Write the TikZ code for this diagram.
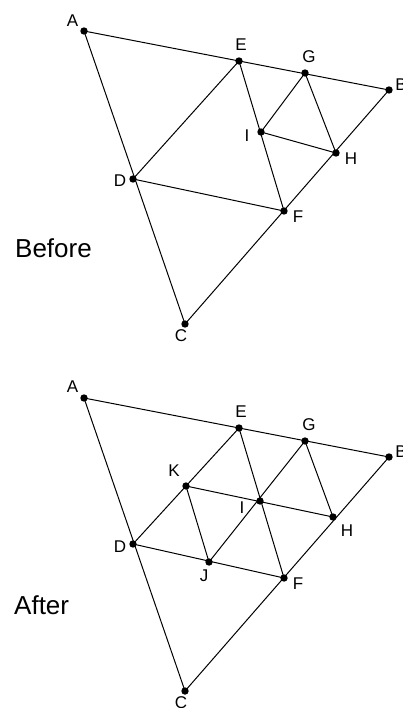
\documentclass[tikz,border=0pt]{standalone}
\usepackage{fontspec}
\setmainfont{Liberation Sans}
\begin{document}
\begin{tikzpicture}[x=1pt,y=-1pt,
  dot/.style={circle,fill=black,inner sep=0pt,minimum size=7.4pt},
  lbl/.style={inner sep=0pt,font=\fontsize{17}{20}\selectfont},
  title/.style={inner sep=0pt,anchor=base west,font=\fontsize{26}{30}\selectfont},
  edge/.style={line width=1pt,black}]
\useasboundingbox (0,0) rectangle (403,708);
% ---------- Before ----------
\node[dot] (tA) at (84,31) {};
\node[dot] (tE) at (239,61) {};
\node[dot] (tG) at (305,73) {};
\node[dot] (tB) at (389,90) {};
\node[dot] (tI) at (261,132) {};
\node[dot] (tH) at (336,153) {};
\node[dot] (tD) at (133,179) {};
\node[dot] (tF) at (284,211) {};
\node[dot] (tC) at (185,324) {};
\draw[edge] (tA.center) -- (tB.center);
\draw[edge] (tA.center) -- (tC.center);
\draw[edge] (tC.center) -- (tB.center);
\draw[edge] (tE.center) -- (tD.center);
\draw[edge] (tE.center) -- (tF.center);
\draw[edge] (tD.center) -- (tF.center);
\draw[edge] (tG.center) -- (tI.center);
\draw[edge] (tG.center) -- (tH.center);
\draw[edge] (tI.center) -- (tH.center);
\node[lbl] (ltA) at (72.5,21) {A};
\node[lbl] (ltE) at (241,44.5) {E};
\node[lbl] (ltG) at (309,57) {G};
\node[lbl] (ltB) at (401,85) {B};
\node[lbl] (ltI) at (247,136) {I};
\node[lbl] (ltH) at (351,159) {H};
\node[lbl] (ltD) at (120,181) {D};
\node[lbl] (ltF) at (298,217) {F};
\node[lbl] (ltC) at (181,336) {C};
\node[title] (before) at (15,258) {Before};
% ---------- After ----------
\node[dot] (bA) at (84,398) {};
\node[dot] (bE) at (239,428) {};
\node[dot] (bG) at (305,441) {};
\node[dot] (bB) at (389,457) {};
\node[dot] (bK) at (186,486) {};
\node[dot] (bI) at (260,501) {};
\node[dot] (bH) at (333,517) {};
\node[dot] (bD) at (133,544) {};
\node[dot] (bJ) at (209,562) {};
\node[dot] (bF) at (284,578) {};
\node[dot] (bC) at (185,691) {};
\draw[edge] (bA.center) -- (bB.center);
\draw[edge] (bA.center) -- (bC.center);
\draw[edge] (bC.center) -- (bB.center);
\draw[edge] (bE.center) -- (bD.center);
\draw[edge] (bE.center) -- (bF.center);
\draw[edge] (bD.center) -- (bF.center);
\draw[edge] (bK.center) -- (bH.center);
\draw[edge] (bK.center) -- (bJ.center);
\draw[edge] (bJ.center) -- (bG.center);
\draw[edge] (bG.center) -- (bH.center);
\node[lbl] (lbA) at (72.5,387) {A};
\node[lbl] (lbE) at (241,411.5) {E};
\node[lbl] (lbG) at (309,425) {G};
\node[lbl] (lbB) at (401,452) {B};
\node[lbl] (lbK) at (174,471) {K};
\node[lbl] (lbI) at (242,507.5) {I};
\node[lbl] (lbH) at (347,531) {H};
\node[lbl] (lbD) at (120,547) {D};
\node[lbl] (lbJ) at (204,576) {J};
\node[lbl] (lbF) at (298,584) {F};
\node[lbl] (lbC) at (181,703) {C};
\node[title] (after) at (14,614) {After};
\end{tikzpicture}
\end{document}
